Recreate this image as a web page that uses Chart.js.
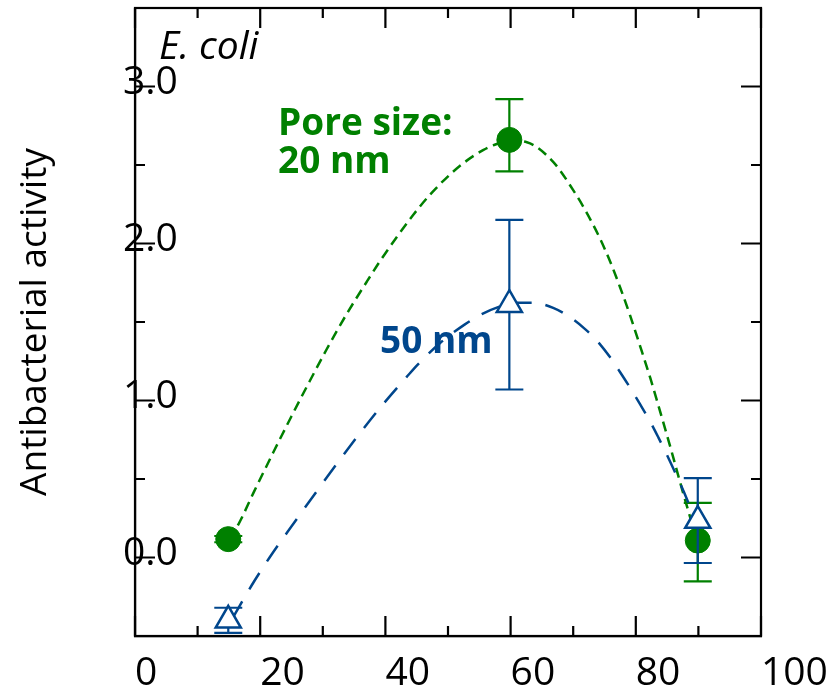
<!DOCTYPE html>
<html><head><meta charset="utf-8">
<script src="https://cdn.jsdelivr.net/npm/chart.js@4/dist/chart.umd.min.js"></script>
<style>html,body{margin:0;padding:0;background:#fff;overflow:hidden}</style>
</head><body>
<canvas id="c" width="834" height="688"></canvas>
<script>
// ---- data ----
const xTickValues = [0, 20, 40, 60, 80, 100];
const xTickLabels = ['0', '20', '40', '60', '80', '100'];
const yTickValues = [0, 1, 2, 3];
const yTickLabels = ['0.0', '1.0', '2.0', '3.0'];

const poreX = [14.9, 59.8, 89.9];
const green20Y = [0.117, 2.66, 0.108];
const green20ErrUp = [0.02, 0.26, 0.24];
const green20ErrDown = [0.02, 0.20, 0.26];
const blue50Y = [-0.40, 1.61, 0.235];
const blue50ErrUp = [0.08, 0.54, 0.27];
const blue50ErrDown = [0.08, 0.54, 0.27];

const green20FitX = [15.0, 16.5, 18.9, 22.1, 25.0, 27.6, 30.6, 33.8, 37.0, 39.1, 41.8, 44.4, 47.1, 49.8, 52.4, 55.6, 57.2, 60.0, 62.6, 66.8, 70.0, 72.1, 74.3, 75.9, 77.5, 79.1, 80.7, 82.3, 83.3, 84.9, 86.0, 87.0, 88.0, 88.8];
const green20FitY = [0.12, 0.21, 0.41, 0.67, 0.90, 1.10, 1.325, 1.55, 1.755, 1.885, 2.04, 2.18, 2.31, 2.42, 2.51, 2.595, 2.625, 2.655, 2.645, 2.52, 2.34, 2.20, 2.03, 1.885, 1.72, 1.54, 1.345, 1.145, 1.01, 0.79, 0.635, 0.49, 0.35, 0.24];
const blue50FitX = [15.6, 16.4, 18.6, 21.5, 25.3, 29.0, 32.2, 35.9, 39.6, 43.4, 45.2, 48.7, 52.7, 55.4, 58.0, 61.0, 63.6, 66.8, 69.5, 71.9, 73.7, 75.9, 77.5, 79.3, 80.7, 82.3, 83.6, 84.9, 86.3, 87.6, 88.6];
const blue50FitY = [-0.385, -0.33, -0.18, 0.0, 0.215, 0.42, 0.595, 0.79, 0.975, 1.15, 1.23, 1.365, 1.485, 1.55, 1.595, 1.622, 1.622, 1.59, 1.53, 1.455, 1.385, 1.275, 1.18, 1.068, 0.975, 0.865, 0.765, 0.66, 0.54, 0.425, 0.33];

const GREEN = '#008000';
const BLUE = '#00468c';
const FONT = '"Open Sans", "Noto Sans", sans-serif';

const pts = (xs, ys) => xs.map((x, i) => ({x, y: ys[i]}));

// error bars drawn just before each point dataset
const errorBars = {
  id: 'errorBars',
  beforeDatasetDraw(chart, args) {
    const ds = chart.data.datasets[args.index];
    if (!ds.errUp) return;
    const ys = chart.scales.y, ctx = chart.ctx;
    ctx.save();
    ctx.strokeStyle = ds.borderColor;
    ctx.lineWidth = 2.2;
    args.meta.data.forEach((el, i) => {
      const v = ds.data[i].y;
      const t = ys.getPixelForValue(v + ds.errUp[i]);
      const b = ys.getPixelForValue(v - ds.errDown[i]);
      ctx.beginPath();
      ctx.moveTo(el.x, t); ctx.lineTo(el.x, b);
      ctx.moveTo(el.x - 14, t); ctx.lineTo(el.x + 14, t);
      ctx.moveTo(el.x - 14, b); ctx.lineTo(el.x + 14, b);
      ctx.stroke();
    });
    ctx.restore();
  }
};

// frame with inward major/minor tick marks on all four sides + annotations
const frameTicks = {
  id: 'frameTicks',
  afterDatasetsDraw(chart) {
    const {ctx, chartArea: a, scales: {x, y}} = chart;
    ctx.save();
    ctx.strokeStyle = '#000';
    ctx.lineWidth = 2.2;
    ctx.strokeRect(a.left, a.top, a.right - a.left, a.bottom - a.top);
    ctx.beginPath();
    x.ticks.forEach(t => {
      const px = x.getPixelForValue(t.value);
      const len = xTickValues.includes(t.value) ? 20 : 10;
      ctx.moveTo(px, a.bottom); ctx.lineTo(px, a.bottom - len);
      ctx.moveTo(px, a.top); ctx.lineTo(px, a.top + len);
    });
    y.ticks.forEach(t => {
      const py = y.getPixelForValue(t.value);
      const len = yTickValues.includes(t.value) ? 20 : 10;
      ctx.moveTo(a.left, py); ctx.lineTo(a.left + len, py);
      ctx.moveTo(a.right, py); ctx.lineTo(a.right - len, py);
    });
    ctx.stroke();
    ctx.restore();
  },
  afterDraw(chart) {
    const {ctx, chartArea: a} = chart;
    ctx.save();
    ctx.textBaseline = 'alphabetic';
    ctx.textAlign = 'left';
    ctx.fillStyle = '#000';
    ctx.font = 'italic 39px ' + FONT;
    ctx.fillText('E. coli', a.left + 24, a.top + 51);
    ctx.fillStyle = GREEN;
    ctx.font = 'bold 37px ' + FONT;
    ctx.fillText('Pore size:', a.left + 143, a.top + 127);
    ctx.fillText('20 nm', a.left + 143, a.top + 165);
    ctx.fillStyle = BLUE;
    ctx.fillText('50 nm', a.left + 245, a.top + 345);
    ctx.restore();
  }
};

new Chart(document.getElementById('c'), {
  type: 'scatter',
  data: {
    datasets: [
      { label: '50 nm', data: pts(poreX, blue50Y), errUp: blue50ErrUp, errDown: blue50ErrDown,
        showLine: false, pointStyle: 'triangle', pointRadius: 14.5, pointBorderWidth: 2.5,
        borderColor: BLUE, pointBorderColor: BLUE, pointBackgroundColor: '#fff', backgroundColor: '#fff' },
      { label: '50 nm fit', data: pts(blue50FitX, blue50FitY), showLine: true, pointRadius: 0,
        borderColor: BLUE, borderWidth: 2.5, borderDash: [19, 14], cubicInterpolationMode: 'monotone', fill: false },
      { label: '20 nm', data: pts(poreX, green20Y), errUp: green20ErrUp, errDown: green20ErrDown,
        showLine: false, pointStyle: 'circle', pointRadius: 12.5, pointBorderWidth: 1,
        borderColor: GREEN, pointBorderColor: GREEN, pointBackgroundColor: GREEN, backgroundColor: GREEN },
      { label: '20 nm fit', data: pts(green20FitX, green20FitY), showLine: true, pointRadius: 0,
        borderColor: GREEN, borderWidth: 2.5, borderDash: [10, 6], cubicInterpolationMode: 'monotone', fill: false }
    ]
  },
  options: {
    responsive: false,
    animation: false,
    devicePixelRatio: 1,
    layout: { autoPadding: false, padding: { left: 0, right: 73, top: 8, bottom: 0 } },
    plugins: { legend: { display: false }, tooltip: { enabled: false } },
    scales: {
      x: {
        type: 'linear', position: 'bottom', min: 0, max: 100,
        grid: { display: false, drawTicks: false },
        border: { display: true, color: '#000', width: 2.2 },
        ticks: {
          stepSize: 10, autoSkip: false, maxRotation: 0, minRotation: 0,
          align: 'start', padding: 14, color: '#000',
          font: { family: FONT, size: 39 },
          callback: v => { const i = xTickValues.indexOf(v); return i >= 0 ? xTickLabels[i] : ''; }
        },
        afterFit: s => { s.height = 52; s.paddingLeft = 0; s.paddingRight = 0; }
      },
      y: {
        type: 'linear', position: 'left', min: -0.5, max: 3.5,
        grid: { display: false, drawTicks: false },
        border: { display: true, color: '#000', width: 2.2 },
        ticks: {
          stepSize: 0.5, autoSkip: false, mirror: true, padding: -12, labelOffset: -4,
          color: '#000', font: { family: FONT, size: 39 },
          callback: v => { const i = yTickValues.indexOf(v); return i >= 0 ? yTickLabels[i] : ''; }
        },
        title: { display: true, text: 'Antibacterial activity', color: '#000',
          font: { family: FONT, size: 37 }, padding: { top: 13, bottom: 0 } },
        afterFit: s => { s.width = 135; s.paddingTop = 0; s.paddingBottom = 0; }
      }
    }
  },
  plugins: [errorBars, frameTicks]
});
</script>
</body></html>
